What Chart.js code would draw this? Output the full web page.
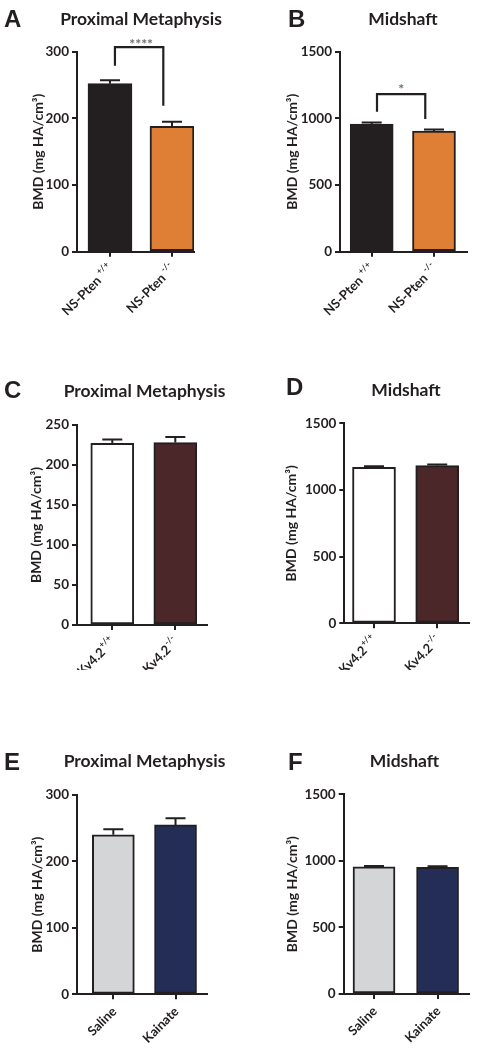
<!DOCTYPE html>
<html><head><meta charset="utf-8">
<script src="https://cdn.jsdelivr.net/npm/chart.js@4.4.1/dist/chart.umd.min.js"></script>
<style>
html,body{margin:0;padding:0;background:#fff;}
#wrap{position:relative;width:477px;height:1050px;overflow:hidden;background:#fff;}
canvas{position:absolute;}
</style></head><body><div id="wrap">
<canvas id="cA"></canvas><canvas id="cB"></canvas>
<canvas id="cC"></canvas><canvas id="cD"></canvas>
<canvas id="cE"></canvas><canvas id="cF"></canvas>
</div>
<script>
// ---------------- data ----------------
const groupsNS = ['NS-Pten', 'NS-Pten'];
const supersNS = ['+/+', '-/-'];
const groupsKv = ['Kv4.2', 'Kv4.2'];
const supersKv = ['+/+', '-/-'];
const groupsKA = ['Saline', 'Kainate'];
const supersKA = ['', ''];

const meanA = [252, 188];  const semA = [5, 7];
const meanB = [957, 905];  const semB = [12, 12];
const meanC = [227, 228];  const semC = [5, 7];
const meanD = [1170, 1182]; const semD = [8, 9];
const meanE = [240, 255];  const semE = [8.5, 10];
const meanF = [955, 952];  const semF = [7, 8];

const yTicksPM300 = [0, 100, 200, 300];
const yTicksPM250 = [0, 50, 100, 150, 200, 250];
const yTicksMid = [0, 500, 1000, 1500];

const panelLetters = ['A', 'B', 'C', 'D', 'E', 'F'];
const titlePM = 'Proximal Metaphysis';
const titleMid = 'Midshaft';
const yTitle = 'BMD (mg HA/cm³)';

const sigLabelA = '****'; const sigLevelsA = [307, 279, 219];   // bracket top, left leg end, right leg end
const sigLabelB = '*';    const sigLevelsB = [1182, 1050, 995];

// ---------------- style ----------------
const INK = '#231f20';
const FONT = 'Lato';
const colsNS = ['#231f20', '#df7f35'];
const colsKv = ['#ffffff', '#4b272a'];
const colsKA = ['#d4d5d7', '#232d56'];

const xLabelPlugin = {
  id: 'xlab',
  afterDraw(chart, args, o) {
    const ctx = chart.ctx, xs = chart.scales.x, y0 = chart.chartArea.bottom;
    o.labels.forEach((t, i) => {
      const px = xs.getPixelForValue(i);
      ctx.save();
      ctx.translate(px + 1, y0 + 15);
      ctx.rotate(-Math.PI / 4);
      ctx.textAlign = 'right'; ctx.textBaseline = 'middle'; ctx.fillStyle = INK;
      let w = 0;
      const sup = o.supers[i];
      if (sup) {
        ctx.font = 'bold 8.5px ' + FONT;
        ctx.fillText(sup, 0, -5);
        w = ctx.measureText(sup).width + o.gap;
      }
      ctx.font = 'bold 13px ' + FONT;
      ctx.fillText(t, -w, 0);
      ctx.restore();
    });
  }
};

const decoPlugin = {
  id: 'deco',
  afterDatasetsDraw(chart, args, o) {
    const ctx = chart.ctx, ys = chart.scales.y;
    const meta = chart.getDatasetMeta(0);
    ctx.save();
    ctx.strokeStyle = INK; ctx.lineWidth = 2; ctx.lineCap = 'butt';
    o.mean.forEach((m, i) => {
      const x = meta.data[i].x;
      const yb = ys.getPixelForValue(m), ye = ys.getPixelForValue(m + o.sem[i]);
      ctx.beginPath();
      ctx.moveTo(x, yb); ctx.lineTo(x, ye);
      ctx.moveTo(x - 10, ye); ctx.lineTo(x + 10, ye);
      ctx.stroke();
    });
    ctx.restore();
  },
  afterDraw(chart, args, o) {
    const ctx = chart.ctx, xs = chart.scales.x, ys = chart.scales.y;
    const L = o.box[0], T = o.box[1];
    ctx.save();
    ctx.fillStyle = INK;
    ctx.textAlign = 'left'; ctx.textBaseline = 'alphabetic';
    ctx.font = 'bold 24px "Liberation Sans", Arial';
    ctx.fillText(o.letter, o.letterPos[0] - L, o.letterPos[1] - T);
    ctx.textAlign = 'center';
    ctx.font = 'bold 17.5px ' + FONT;
    ctx.fillText(o.title, o.titlePos[0] - L, o.titlePos[1] - T);
    if (o.sig) {
      const s = o.sig;
      const x1 = xs.getPixelForValue(s.x[0]), x2 = xs.getPixelForValue(s.x[1]);
      const yt = ys.getPixelForValue(s.levels[0]);
      const y1 = ys.getPixelForValue(s.levels[1]), y2 = ys.getPixelForValue(s.levels[2]);
      ctx.strokeStyle = INK; ctx.lineWidth = 2.2; ctx.lineJoin = 'miter';
      ctx.beginPath();
      ctx.moveTo(x1, y1); ctx.lineTo(x1, yt); ctx.lineTo(x2, yt); ctx.lineTo(x2, y2);
      ctx.stroke();
      ctx.fillStyle = '#6d6e71';
      ctx.font = 'bold 14px ' + FONT;
      const mt = ctx.measureText(s.label);
      const base = yt - s.off + (mt.actualBoundingBoxAscent - mt.actualBoundingBoxDescent) / 2;
      ctx.fillText(s.label, (x1 + x2) / 2 + s.dx, base);
    }
    ctx.restore();
  }
};

function makePanel(id, c) {
  const el = document.getElementById(id);
  const b = c.box;
  el.style.left = b[0] + 'px'; el.style.top = b[1] + 'px';
  el.width = b[2]; el.height = b[3];
  el.style.width = b[2] + 'px'; el.style.height = b[3] + 'px';
  const yt = c.yTicks;
  new Chart(el, {
    type: 'bar',
    data: {
      datasets: [{
        data: c.mean.map((v, i) => ({ x: i, y: v })),
        backgroundColor: c.colors,
        borderColor: INK, borderWidth: 2, borderSkipped: false,
        barThickness: c.barW
      }]
    },
    options: {
      responsive: false, animation: false, events: [],
      layout: { padding: { top: c.plot.top - b[1], right: b[0] + b[2] - c.plot.right, left: 0, bottom: 0 } },
      plugins: {
        legend: { display: false }, tooltip: { enabled: false },
        xlab: { labels: c.labels, supers: c.supers, gap: c.gap },
        deco: { box: b, mean: c.mean, sem: c.sem, letter: c.letter, letterPos: c.letterPos,
                title: c.title, titlePos: c.titlePos, sig: c.sig }
      },
      scales: {
        x: {
          type: 'linear', min: c.xr[0], max: c.xr[1], offset: false,
          afterBuildTicks: s => { s.ticks = c.mean.map((_, i) => ({ value: i })); },
          afterFit: s => { s.height = b[1] + b[3] - c.plot.bottom; },
          ticks: { display: false },
          grid: { offset: false, drawOnChartArea: false, drawTicks: true, tickLength: 5, color: INK, lineWidth: 2 },
          border: { color: INK, width: 2 }
        },
        y: {
          min: yt[0], max: yt[yt.length - 1],
          afterBuildTicks: s => { s.ticks = yt.map(v => ({ value: v })); },
          afterFit: s => { s.width = c.plot.left - b[0]; },
          ticks: { font: { family: FONT, weight: 'bold', size: 13.5 }, color: INK, padding: 3,
                   callback: v => String(v) },
          grid: { drawOnChartArea: false, drawTicks: true, tickLength: 5, color: INK, lineWidth: 2 },
          border: { color: INK, width: 2 },
          title: { display: true, text: yTitle, color: INK,
                   font: { family: FONT, weight: 'bold', size: 14 },
                   padding: { top: c.yTitleX - b[0] - 8.4, bottom: 0 } }
        }
      }
    },
    plugins: [xLabelPlugin, decoPlugin]
  });
}

function build() {
  makePanel('cA', { box: [0, 0, 237, 330], plot: { left: 77, top: 51.7, bottom: 251.7, right: 194 },
    xr: [-0.532, 1.355], barW: 44, mean: meanA, sem: semA, colors: colsNS, yTicks: yTicksPM300,
    labels: groupsNS, supers: supersNS, gap: 3, letter: panelLetters[0], letterPos: [4, 27],
    title: titlePM, titlePos: [141, 24.5], yTitleX: 38,
    sig: { label: sigLabelA, levels: sigLevelsA, x: [0.08, 0.86], off: 6, dx: 2 } });
  makePanel('cB', { box: [237, 0, 240, 330], plot: { left: 340, top: 51.7, bottom: 251.7, right: 467 },
    xr: [-0.509, 1.53], barW: 43, mean: meanB, sem: semB, colors: colsNS, yTicks: yTicksMid,
    labels: groupsNS, supers: supersNS, gap: 3, letter: panelLetters[1], letterPos: [288, 27],
    title: titleMid, titlePos: [403, 24.5], yTitleX: 292,
    sig: { label: sigLabelB, levels: sigLevelsB, x: [0.085, 0.86], off: 8, dx: 0 } });
  makePanel('cC', { box: [0, 330, 237, 340], plot: { left: 77, top: 425, bottom: 625, right: 207 },
    xr: [-0.56, 1.503], barW: 43, mean: meanC, sem: semC, colors: colsKv, yTicks: yTicksPM250,
    labels: groupsKv, supers: supersKv, gap: 0.5, letter: panelLetters[2], letterPos: [4, 398],
    title: titlePM, titlePos: [144.5, 396.5], yTitleX: 36 });
  makePanel('cD', { box: [237, 330, 240, 340], plot: { left: 344.3, top: 423.3, bottom: 623.3, right: 468.7 },
    xr: [-0.47, 1.498], barW: 43, mean: meanD, sem: semD, colors: colsKv, yTicks: yTicksMid,
    labels: groupsKv, supers: supersKv, gap: 0.5, letter: panelLetters[3], letterPos: [286, 395],
    title: titleMid, titlePos: [406, 396], yTitleX: 291.5 });
  makePanel('cE', { box: [0, 670, 237, 380], plot: { left: 77, top: 795, bottom: 994.3, right: 207 },
    xr: [-0.584, 1.506], barW: 42, mean: meanE, sem: semE, colors: colsKA, yTicks: yTicksPM300,
    labels: groupsKA, supers: supersKA, gap: 0, letter: panelLetters[4], letterPos: [4, 770],
    title: titlePM, titlePos: [144.5, 767], yTitleX: 37.5 });
  makePanel('cF', { box: [237, 670, 240, 380], plot: { left: 343.7, top: 794.3, bottom: 994, right: 468.7 },
    xr: [-0.477, 1.49], barW: 42, mean: meanF, sem: semF, colors: colsKA, yTicks: yTicksMid,
    labels: groupsKA, supers: supersKA, gap: 0, letter: panelLetters[5], letterPos: [288, 770],
    title: titleMid, titlePos: [404.5, 767], yTitleX: 292 });
}

const ready = (document.fonts && document.fonts.load)
  ? Promise.all([document.fonts.load('bold 13px Lato'), document.fonts.load('bold 24px "Liberation Sans"')]).catch(() => {})
  : Promise.resolve();
ready.then(build, build);
</script>
</body></html>
